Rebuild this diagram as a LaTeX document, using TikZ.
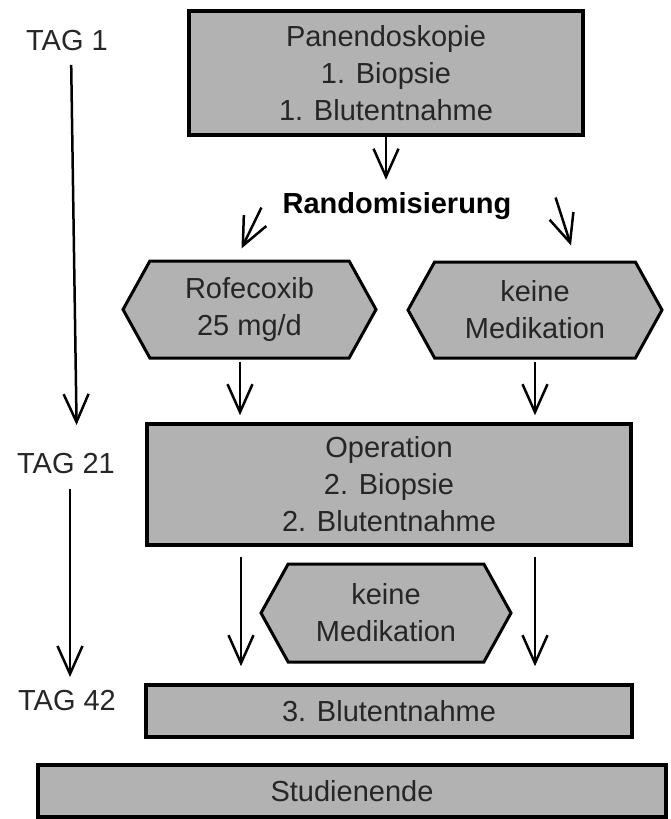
\documentclass[tikz,border=0pt]{standalone}
\usepackage{fontspec}
\setmainfont{Liberation Sans}
\usetikzlibrary{shapes,arrows.meta,calc}
\definecolor{boxgray}{gray}{0.7}
\definecolor{txtgray}{gray}{0.15}

\begin{document}
\begin{tikzpicture}[x=1pt,y=-1pt,font=\fontsize{29}{37}\selectfont,
  box/.style={rectangle,draw,fill=boxgray,line width=3.5pt,text=txtgray,align=center,inner sep=0pt},
  hexa/.style={signal,signal to=west and east,signal pointer angle=122,draw,fill=boxgray,line width=3pt,text=txtgray,align=center,inner sep=0pt},
  tag/.style={text=txtgray,inner sep=0pt},
  arr/.style={line width=2.5pt,-{Straight Barb[length=28pt,width=25pt]}}]
\useasboundingbox (0,0) rectangle (670,819);
\node[tag] at (67,41) (tag1) {TAG 1};
\node[tag] at (66,464) (tag21) {TAG 21};
\node[tag] at (67,701) (tag42) {TAG 42};
\node[box,minimum width=394pt,minimum height=124pt] at (386,73) (pan) {Panendoskopie\\1. Biopsie\\1. Blutentnahme};
\node[anchor=base,inner sep=0pt,font=\fontsize{29}{37}\selectfont\bfseries] at (397,213) (rand) {Randomisierung};
\node[hexa,minimum width=253pt,minimum height=97pt] at (249.5,309.5) (rofe) {Rofecoxib\\25 mg/d};
\node[hexa,minimum width=254pt,minimum height=96pt] at (535,310) (keine) {keine\\Medikation};
\node[box,minimum width=484pt,minimum height=121pt] at (389,484.5) (op) {Operation\\2. Biopsie\\2. Blutentnahme};
\node[hexa,minimum width=250pt,minimum height=98pt] at (386,613) (keine2) {keine\\Medikation};
\node[box,minimum width=486pt,minimum height=52pt] at (389,711) (blut3) {3. Blutentnahme};
\node[box,minimum width=628pt,minimum height=52pt] at (352,791) (ende) {Studienende};
\draw[arr,shorten >=12pt] (pan.south) -- (pan.south |- rand.north);
\draw[arr] ($(rand.west)+(-21,2)$) -- ($(rofe.north)+(-8,-11)$);
\draw[arr] ($(rand.east)+(44,-8)$) -- ($(keine.north)+(36,-15)$);
\draw[arr,shorten <=2pt,shorten >=7pt] ($(rofe.south)+(-9.5,0)$) -- ($(rofe.south |- op.north)+(-9.5,0)$);
\draw[arr,shorten <=2pt,shorten >=7pt] (keine.south) -- (keine.south |- op.north);
\draw[arr,shorten <=10pt,shorten >=17pt] ($(op.south)+(-148,0)$) -- ($(op.south |- blut3.north)+(-148,0)$);
\draw[arr,shorten <=10pt,shorten >=17pt] ($(op.south)+(146,0)$) -- ($(op.south |- blut3.north)+(146,0)$);
\draw[arr,shorten <=13.5pt,shorten >=28.5pt] ($(tag1.south)+(4,0)$) -- ($(tag21.north)+(11,0)$);
\draw[arr,shorten <=15pt,shorten >=13.5pt] ($(tag21.south)+(4,0)$) -- ($(tag42.north)+(3,0)$);
\end{tikzpicture}
\end{document}
